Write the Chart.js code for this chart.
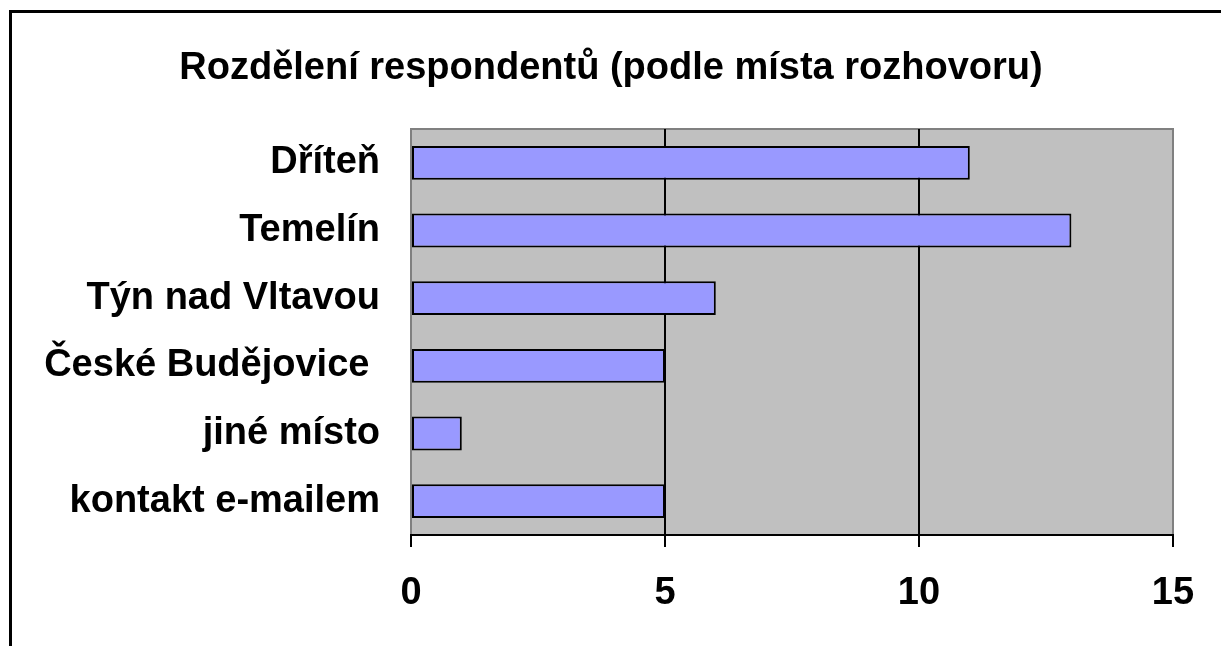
<!DOCTYPE html>
<html>
<head>
<meta charset="utf-8">
<script src="https://cdn.jsdelivr.net/npm/chart.js@4"></script>
<style>
  html, body { margin: 0; padding: 0; background: #fff; }
  #wrap { position: relative; width: 1221px; height: 646px; }
</style>
</head>
<body>
<div id="wrap"><canvas id="chart"></canvas></div>
<script>
// ---------- Data ----------
const TITLE = 'Rozdělení respondentů (podle místa rozhovoru)';
const CATEGORIES = ['Dříteň', 'Temelín', 'Týn nad Vltavou', 'České Budějovice ', 'jiné místo', 'kontakt e-mailem'];
const VALUES = [11, 13, 6, 5, 1, 5];
const X_MIN = 0;
const X_MAX = 15;
const X_STEP = 5;

const FONT = "'Liberation Sans', Arial, sans-serif";

// gray plot background + frame, outer border of the sheet, and the title
const framePlugin = {
  id: 'frame',
  beforeDraw(chart) {
    const { ctx, chartArea: a } = chart;
    ctx.save();
    ctx.fillStyle = '#fff';
    ctx.fillRect(0, 0, chart.width, chart.height);
    ctx.fillStyle = '#c0c0c0';
    ctx.fillRect(a.left, a.top, a.right - a.left, a.bottom - a.top);
    ctx.strokeStyle = '#808080';
    ctx.lineWidth = 2;
    ctx.strokeRect(a.left, a.top, a.right - a.left, a.bottom - a.top);
    ctx.strokeStyle = '#000';
    ctx.lineWidth = 3;
    ctx.beginPath();
    ctx.moveTo(10.5, chart.height);
    ctx.lineTo(10.5, 11.5);
    ctx.lineTo(chart.width, 11.5);
    ctx.stroke();

    ctx.fillStyle = '#000';
    ctx.font = 'bold 38px ' + FONT;
    ctx.textAlign = 'center';
    ctx.textBaseline = 'alphabetic';
    ctx.fillText(TITLE, 611, 79);
    ctx.restore();
  }
};

new Chart(document.getElementById('chart'), {
  type: 'bar',
  data: {
    labels: CATEGORIES,
    datasets: [{
      data: VALUES,
      backgroundColor: '#9999ff',
      borderColor: '#000',
      borderWidth: 2,
      borderSkipped: false,
      barPercentage: 0.5,
      categoryPercentage: 1,
    }]
  },
  options: {
    indexAxis: 'y',
    responsive: true,
    maintainAspectRatio: false,
    animation: false,
    layout: { padding: { left: 0, right: 48, top: 129, bottom: 0 } },
    plugins: {
      legend: { display: false },
      tooltip: { enabled: false },
      title: { display: false },
    },
    scales: {
      x: {
        min: X_MIN,
        max: X_MAX,
        ticks: {
          stepSize: X_STEP,
          color: '#000',
          padding: 24,
          font: { family: FONT, size: 38, weight: 'bold' },
        },
        grid: {
          color: c => (c.tick && (c.tick.value === X_MIN || c.tick.value === X_MAX)) ? 'rgba(0,0,0,0)' : '#000',
          tickColor: '#000',
          lineWidth: 2,
          tickLength: 12,
        },
        border: { display: true, color: '#000', width: 2 },
        afterFit: s => { s.height = 111; },
      },
      y: {
        ticks: {
          color: '#000',
          padding: 31,
          font: { family: FONT, size: 38, weight: 'bold' },
        },
        grid: { display: false, drawTicks: false },
        border: { display: false },
        afterFit: s => { s.width = 411; },
      }
    }
  },
  plugins: [framePlugin]
});
</script>
</body>
</html>
